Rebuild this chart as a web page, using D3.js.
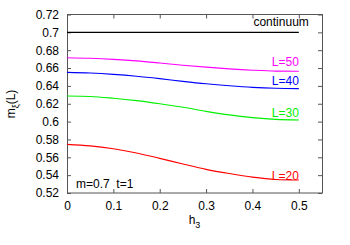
<!DOCTYPE html>
<html>
<head>
<meta charset="utf-8">
<script src="https://cdn.jsdelivr.net/npm/d3@7"></script>
<style>
body { margin: 0; background: #fff; }
svg { display: block; }
text { font-family: "Liberation Sans", Arial, sans-serif; font-size: 12px; }
</style>
</head>
<body>
<svg class="visSVG"></svg>
<script>
const svgWidth = 350;
const svgHeight = 245;

// data
var h3 = [0, 0.05, 0.1, 0.15, 0.2, 0.25, 0.3, 0.35, 0.4, 0.45, 0.5];
var continuum = [0.7, 0.7, 0.7, 0.7, 0.7, 0.7, 0.7, 0.7, 0.7, 0.7, 0.7];
var L50 = [0.6716, 0.6709, 0.6697, 0.6680, 0.6657, 0.6632, 0.6610, 0.6591, 0.6576, 0.6566, 0.6564];
var L40 = [0.6552, 0.6544, 0.6529, 0.6508, 0.6481, 0.6451, 0.6424, 0.6402, 0.6384, 0.6373, 0.6369];
var L30 = [0.6287, 0.6282, 0.6262, 0.6235, 0.6200, 0.6160, 0.6115, 0.6075, 0.6045, 0.6025, 0.6018];
var L20 = [0.5745, 0.5728, 0.5695, 0.5648, 0.5588, 0.5525, 0.5465, 0.5418, 0.5378, 0.5352, 0.5345];
var xTicks = [0, 0.1, 0.2, 0.3, 0.4, 0.5];
var yTicks = [0.52, 0.54, 0.56, 0.58, 0.6, 0.62, 0.64, 0.66, 0.68, 0.7, 0.72];

var series = [
    { name: "continuum", values: continuum, color: "#000000", dx: 10, dy: -6 },
    { name: "L=50", values: L50, color: "#ff00ff", dx: 0, dy: -5 },
    { name: "L=40", values: L40, color: "#0000ff", dx: 0, dy: -4 },
    { name: "L=30", values: L30, color: "#00f000", dx: 0, dy: -3 },
    { name: "L=20", values: L20, color: "#ff0000", dx: 0, dy: -0.5 }
];

var margin = { top: 14.5, right: 28, bottom: 52, left: 67 };
var innerWidth = svgWidth - margin.left - margin.right;
var innerHeight = svgHeight - margin.top - margin.bottom;

const svg = d3.select('.visSVG')
    .attr("width", svgWidth)
    .attr("height", svgHeight);

var graph = svg.append("g")
    .attr("transform", "translate(" + margin.left + "," + margin.top + ")");

const xScale = d3.scaleLinear().domain([0, 0.55]).range([0, innerWidth]);
const yScale = d3.scaleLinear().domain([0.52, 0.72]).range([innerHeight, 0]);

var axisColor = "#555";

// axes with inward ticks (mirrored on top and right)
function styleAxis(g) {
    g.select(".domain").remove();
    g.selectAll(".tick line").attr("stroke", axisColor);
    g.selectAll(".tick text").attr("fill", "#000").style("font-size", "12px");
}
function noLabels(g) {
    g.selectAll(".tick text").remove();
}

graph.append("g")
    .attr("transform", "translate(0," + innerHeight + ")")
    .call(d3.axisBottom(xScale).tickValues(xTicks).tickSize(-4).tickPadding(8).tickFormat(d3.format("")))
    .call(styleAxis);

graph.append("g")
    .call(d3.axisTop(xScale).tickValues(xTicks).tickSize(-4))
    .call(styleAxis).call(noLabels);

graph.append("g")
    .call(d3.axisLeft(yScale).tickValues(yTicks).tickSize(-4).tickPadding(8).tickFormat(d3.format("")))
    .call(styleAxis);

graph.append("g")
    .attr("transform", "translate(" + innerWidth + ",0)")
    .call(d3.axisRight(yScale).tickValues(yTicks).tickSize(-4))
    .call(styleAxis).call(noLabels);

graph.append("rect")
    .attr("x", 0.5).attr("y", 0)
    .attr("width", innerWidth).attr("height", innerHeight)
    .attr("fill", "none")
    .attr("stroke", axisColor);

// curves
var line = d3.line()
    .x(function(d) { return xScale(d[0]); })
    .y(function(d) { return yScale(d[1]); })
    .curve(d3.curveMonotoneX);

series.forEach(function(s) {
    var pts = h3.map(function(h, i) { return [h, s.values[i]]; });
    graph.append("path")
        .datum(pts)
        .attr("d", line)
        .attr("fill", "none")
        .attr("stroke", s.color)
        .attr("stroke-width", 1.1);

    var last = s.values[s.values.length - 1];
    graph.append("text")
        .attr("x", xScale(h3[h3.length - 1]) + s.dx)
        .attr("y", yScale(last) + s.dy)
        .attr("text-anchor", "end")
        .attr("fill", s.color)
        .text(s.name);
});

graph.append("text")
    .attr("x", 9)
    .attr("y", innerHeight - 5)
    .attr("xml:space", "preserve")
    .text("m=0.7  t=1");

// axis labels
graph.append("text")
    .attr("x", innerWidth / 2)
    .attr("y", innerHeight + 31)
    .attr("text-anchor", "middle")
    .html('h<tspan dy="4" font-size="9px">3</tspan>');

svg.append("text")
    .attr("transform", "translate(15,104) rotate(-90)")
    .attr("text-anchor", "middle")
    .html('m<tspan dy="4" font-size="9px">ξ</tspan><tspan dy="-4">(L)</tspan>');
</script>
</body>
</html>
